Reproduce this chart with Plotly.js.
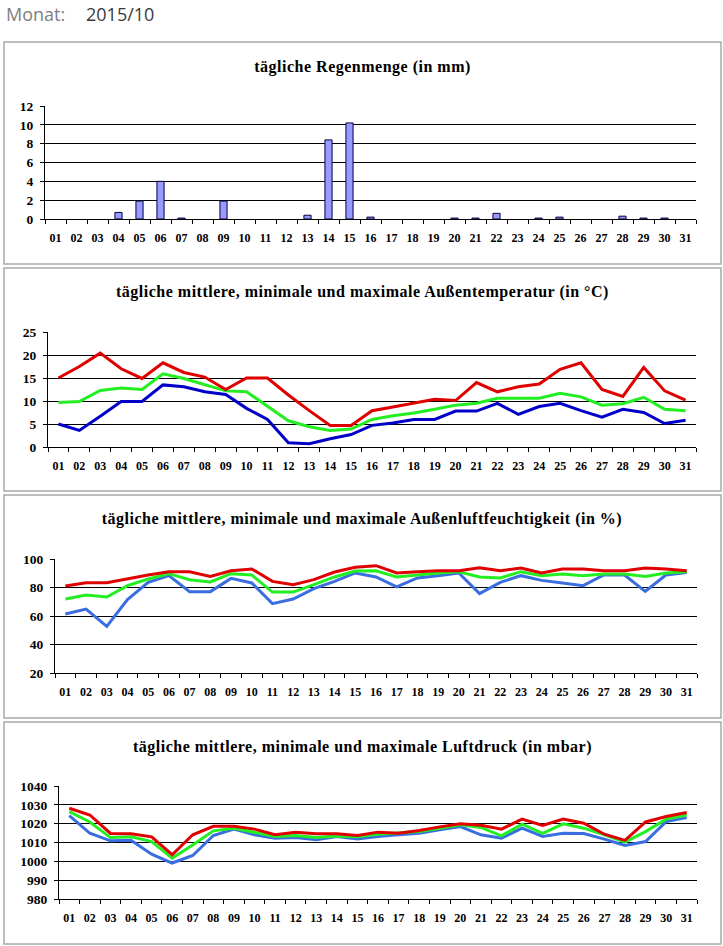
<!DOCTYPE html>
<html>
<head>
<meta charset="utf-8">
<script src="https://cdn.plot.ly/plotly-3.0.1.min.js"></script>
<style>
html,body{margin:0;padding:0;background:#fff;}
#chart{width:723px;height:946px;}
.annotation[data-index="0"] .annotation-text,
.annotation[data-index="1"] .annotation-text,
.annotation[data-index="2"] .annotation-text,
.annotation[data-index="3"] .annotation-text{letter-spacing:0.5px;}
</style>
</head>
<body>
<div id="chart"></div>
<script>
const days = ['01','02','03','04','05','06','07','08','09','10','11','12','13','14','15','16','17','18','19','20','21','22','23','24','25','26','27','28','29','30','31'];

const rain = [0,0,0,0.7,1.9,4.0,0.1,0,1.9,0,0,0,0.4,8.4,10.2,0.2,0,0,0,0.1,0.1,0.6,0,0.1,0.2,0,0,0.3,0.1,0.1,0];

const tempMax  = [15.0,17.5,20.4,17.0,14.9,18.3,16.2,15.2,12.5,15.0,15.0,11.3,7.9,4.7,4.7,7.9,8.7,9.6,10.4,10.1,14.0,12.0,13.1,13.7,16.9,18.3,12.5,11.0,17.3,12.2,10.2];
const tempMean = [9.7,9.9,12.3,12.8,12.5,15.9,14.9,13.5,12.2,12.0,8.9,5.7,4.4,3.6,3.9,6.0,6.8,7.4,8.2,9.1,9.5,10.6,10.6,10.6,11.7,10.9,9.1,9.4,10.8,8.2,7.9];
const tempMin  = [5.0,3.6,6.7,9.9,9.9,13.5,13.1,12.0,11.4,8.4,6.0,0.9,0.7,1.8,2.7,4.7,5.2,6.0,6.0,7.8,7.8,9.5,7.1,8.8,9.5,7.9,6.5,8.2,7.5,5.1,5.8];

const humMax  = [81.0,83.4,83.4,86.2,88.8,91.1,91.1,87.8,91.8,93.0,84.3,82.0,85.5,90.9,94.2,95.3,90.2,91.1,91.8,91.8,93.9,91.8,93.7,90.2,93.0,93.0,91.8,91.8,93.7,93.0,91.8];
const humMean = [71.9,74.7,73.3,81.3,86.0,89.7,85.5,83.9,89.7,88.8,76.8,76.8,82.0,87.4,91.6,91.8,87.4,89.0,90.2,91.1,87.4,86.7,91.1,88.3,89.5,88.3,89.5,89.5,87.8,90.2,91.1];
const humMin  = [61.4,64.9,52.7,71.5,83.6,88.3,77.1,77.1,86.4,83.2,68.7,71.9,79.2,84.3,90.2,87.4,80.4,86.7,88.3,90.2,75.7,83.6,88.3,85.0,83.2,81.3,88.8,88.8,77.3,88.8,90.6];

const presMax  = [1028.2,1024.6,1014.8,1014.6,1013.0,1003.5,1014.1,1018.6,1018.6,1017.1,1014.1,1015.5,1014.6,1014.6,1013.7,1015.5,1014.9,1016.4,1018.3,1019.9,1019.2,1017.1,1022.4,1019.0,1022.4,1020.2,1014.4,1011.1,1020.9,1023.8,1025.9];
const presMean = [1026.4,1020.9,1012.6,1013.0,1010.5,1001.7,1008.7,1016.2,1017.6,1015.5,1013.2,1013.7,1012.6,1013.4,1013.0,1014.4,1014.9,1015.8,1017.6,1019.4,1018.0,1013.5,1019.7,1014.9,1019.9,1017.6,1014.1,1010.2,1015.8,1022.4,1024.6];
const presMin  = [1024.3,1014.9,1010.9,1011.2,1003.8,999.1,1003.1,1013.7,1017.1,1014.1,1012.3,1012.6,1011.4,1013.2,1011.9,1013.2,1014.1,1014.9,1016.7,1018.5,1014.1,1012.3,1017.6,1013.2,1014.9,1014.8,1011.8,1008.4,1010.5,1021.1,1023.2];

const titles = [
  'tägliche Regenmenge (in mm)',
  'tägliche mittlere, minimale und maximale Außentemperatur (in °C)',
  'tägliche mittlere, minimale und maximale Außenluftfeuchtigkeit (in %)',
  'tägliche mittlere, minimale und maximale Luftdruck (in mbar)'
];
const monthLabel = 'Monat:';
const monthValue = '2015/10';

// ---- layout geometry (pixels) ----
const W = 723, H = 946;
const px = v => v / W;
const py = v => 1 - v / H;

const RED = '#e00000', GREEN = '#22ee22', DBLUE = '#0000c8', LBLUE = '#3a6ee0';
const serif = 'Liberation Serif, Times New Roman, serif';

function xAxis(left, right, anchor) {
  return {
    type: 'category', domain: [px(left), px(right)], anchor: anchor,
    range: [-0.5, 30.5], tickson: 'boundaries', ticks: 'outside', ticklen: 4,
    tickcolor: '#000', tickwidth: 1, showline: true, linecolor: '#000', linewidth: 1,
    showgrid: false, zeroline: false, fixedrange: true, tickangle: 0,
    tickfont: {family: serif, size: 12, weight: 'bold', color: '#000'},
    ticklabelstandoff: 8
  };
}
function yAxis(top, bottom, range, dtick, anchor) {
  return {
    domain: [py(bottom), py(top)], anchor: anchor, range: range, dtick: dtick,
    ticks: 'outside', ticklen: 4, tickcolor: '#000', tickwidth: 1,
    showline: true, linecolor: '#000', linewidth: 1,
    showgrid: true, gridcolor: '#000', gridwidth: 1, zeroline: false, fixedrange: true,
    tickfont: {family: serif, size: 13.5, weight: 'bold', color: '#000'},
    ticklabelstandoff: 4
  };
}

function line(y, color, xa, ya) {
  return {type: 'scatter', mode: 'lines', x: days, y: y, xaxis: xa, yaxis: ya,
          line: {color: color, width: 3}, hoverinfo: 'skip'};
}

const data = [
  {type: 'bar', x: days, y: rain.map(v => v === 0 ? null : v), xaxis: 'x', yaxis: 'y',
   marker: {color: '#9999ff', line: {color: '#000040', width: 1}}, hoverinfo: 'skip'},
  line(tempMin, DBLUE, 'x2', 'y2'),
  line(tempMean, GREEN, 'x2', 'y2'),
  line(tempMax, RED, 'x2', 'y2'),
  line(humMin, LBLUE, 'x3', 'y3'),
  line(humMean, GREEN, 'x3', 'y3'),
  line(humMax, RED, 'x3', 'y3'),
  line(presMin, LBLUE, 'x4', 'y4'),
  line(presMean, GREEN, 'x4', 'y4'),
  line(presMax, RED, 'x4', 'y4')
];

const boxes = [[42, 264], [268, 491], [495, 718], [722, 944]];
const titleY = [67, 292, 519, 747];

const shapes = boxes.map(b => ({
  type: 'rect', xref: 'paper', yref: 'paper', x0: px(4), x1: px(721), y0: py(b[1]), y1: py(b[0]),
  line: {color: '#a8a8a8', width: 1.5}, fillcolor: 'rgba(0,0,0,0)', layer: 'below'
}));

const annotations = titles.map((t, i) => ({
  text: t, xref: 'paper', yref: 'paper', x: px(362), y: py(titleY[i]),
  xanchor: 'center', yanchor: 'middle', showarrow: false,
  font: {family: serif, size: 16, weight: 'bold', color: '#000'}
}));
annotations.push({text: monthLabel, xref: 'paper', yref: 'paper', x: px(4), y: py(14),
  xanchor: 'left', yanchor: 'middle', showarrow: false,
  font: {family: 'Open Sans', size: 18, color: '#808080'}});
annotations.push({text: monthValue, xref: 'paper', yref: 'paper', x: px(84), y: py(14),
  xanchor: 'left', yanchor: 'middle', showarrow: false,
  font: {family: 'Open Sans', size: 18, color: '#3a3a3a'}});

const layout = {
  width: W, height: H, autosize: false,
  margin: {l: 0, r: 0, t: 0, b: 0, pad: 0},
  paper_bgcolor: '#fff', plot_bgcolor: 'rgba(0,0,0,0)',
  showlegend: false, bargap: 0.66,
  xaxis:  xAxis(45, 696, 'y'),
  yaxis:  yAxis(106, 219, [0, 12], 2, 'x'),
  xaxis2: xAxis(48, 696, 'y2'),
  yaxis2: yAxis(332, 447, [0, 25], 5, 'x2'),
  xaxis3: xAxis(55, 697, 'y3'),
  yaxis3: yAxis(559, 673, [20, 100], 20, 'x3'),
  xaxis4: xAxis(59, 697, 'y4'),
  yaxis4: yAxis(786, 899, [980, 1040], 10, 'x4'),
  shapes: shapes,
  annotations: annotations
};

Plotly.newPlot('chart', data, layout, {displayModeBar: false, staticPlot: true});
</script>
</body>
</html>
